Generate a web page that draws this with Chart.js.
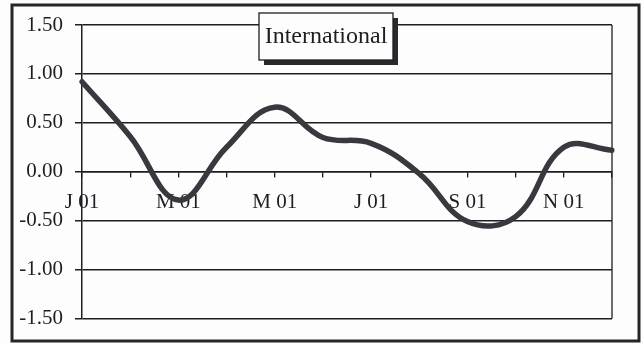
<!DOCTYPE html>
<html>
<head>
<meta charset="utf-8">
<title>International</title>
<script src="https://cdn.jsdelivr.net/npm/chart.js@4/dist/chart.umd.min.js"></script>
<style>
  html, body { margin: 0; padding: 0; background: #ffffff; }
  canvas { display: block; }
</style>
</head>
<body>
<canvas id="chart" width="643" height="343"></canvas>
<script>
// Monthly index, January to December 2001
const months = ['J 01', 'F 01', 'M 01', 'A 01', 'M 01', 'J 01', 'J 01', 'A 01', 'S 01', 'O 01', 'N 01', 'D 01'];
const internationalValues = [0.92, 0.36, -0.29, 0.25, 0.66, 0.35, 0.29, -0.02, -0.51, -0.46, 0.25, 0.22];
const yTicks = [-1.5, -1.0, -0.5, 0.0, 0.5, 1.0, 1.5];
const chartTitle = 'International';

const INK = '#1e1e22';
const SERIF = '"Liberation Serif", "Times New Roman", serif';

// Page background, plot frame, outer border and the boxed title
const decorations = {
  id: 'decorations',
  beforeDraw(chart) {
    const ctx = chart.ctx;
    ctx.save();
    ctx.fillStyle = '#fdfdfd';
    ctx.fillRect(0, 0, chart.width, chart.height);
    ctx.restore();
  },
  beforeDatasetsDraw(chart) {
    const { ctx, chartArea: a } = chart;
    ctx.save();
    ctx.strokeStyle = INK;
    ctx.lineWidth = 1.3;
    ctx.beginPath();
    ctx.moveTo(a.right, a.top);
    ctx.lineTo(a.right, a.bottom);
    ctx.stroke();
    ctx.restore();
  },
  afterDraw(chart) {
    const ctx = chart.ctx;
    ctx.save();
    // outer border
    ctx.strokeStyle = '#26262a';
    ctx.lineWidth = 3;
    ctx.strokeRect(12, 5, 627, 336);

    // title box with drop shadow
    const bx = 259, by = 13, bw = 134, bh = 47, sh = 5;
    ctx.fillStyle = '#2a2a2e';
    ctx.fillRect(bx + sh, by + sh, bw, bh);
    ctx.fillStyle = '#fdfdfd';
    ctx.fillRect(bx, by, bw, bh);
    ctx.strokeStyle = INK;
    ctx.lineWidth = 1.3;
    ctx.strokeRect(bx, by, bw, bh);
    ctx.fillStyle = INK;
    ctx.font = '24px ' + SERIF;
    ctx.textAlign = 'center';
    ctx.textBaseline = 'middle';
    ctx.fillText(chartTitle, bx + bw / 2, by + bh / 2);
    ctx.restore();
  }
};

new Chart(document.getElementById('chart'), {
  type: 'line',
  data: {
    labels: months,
    datasets: [{
      label: chartTitle,
      data: internationalValues,
      borderColor: '#38383e',
      borderWidth: 5.5,
      tension: 0.4,
      pointRadius: 0,
      borderCapStyle: 'round',
      borderJoinStyle: 'round',
      fill: false
    }]
  },
  options: {
    responsive: false,
    animation: false,
    devicePixelRatio: 1,
    layout: { padding: { left: 0, top: 25, right: 31, bottom: 22 } },
    plugins: {
      legend: { display: false },
      tooltip: { enabled: false },
      title: { display: false }
    },
    scales: {
      x: {
        type: 'category',
        position: { y: 0 },
        offset: false,
        grid: {
          drawOnChartArea: false,
          drawTicks: true,
          tickLength: 5,
          color: INK,
          lineWidth: 1.3
        },
        border: { display: true, color: INK, width: 1.5 },
        ticks: {
          autoSkip: false,
          maxRotation: 0,
          padding: 13,
          color: INK,
          font: { family: SERIF, size: 21 },
          callback: function (value, index) {
            return index % 2 === 0 ? months[index] : '';
          }
        },
        afterFit(scale) {
          scale.paddingLeft = 0;
          scale.paddingRight = 0;
        }
      },
      y: {
        min: -1.5,
        max: 1.5,
        afterBuildTicks(scale) {
          scale.ticks = yTicks.map(v => ({ value: v }));
        },
        afterFit(scale) {
          scale.width = 82;
        },
        grid: {
          color: INK,
          lineWidth: 1.5,
          tickLength: 7,
          drawTicks: true
        },
        border: { display: true, color: INK, width: 1.5 },
        ticks: {
          padding: 12,
          color: INK,
          font: { family: SERIF, size: 21 },
          callback: v => Number(v).toFixed(2)
        }
      }
    }
  },
  plugins: [decorations]
});
</script>
</body>
</html>
